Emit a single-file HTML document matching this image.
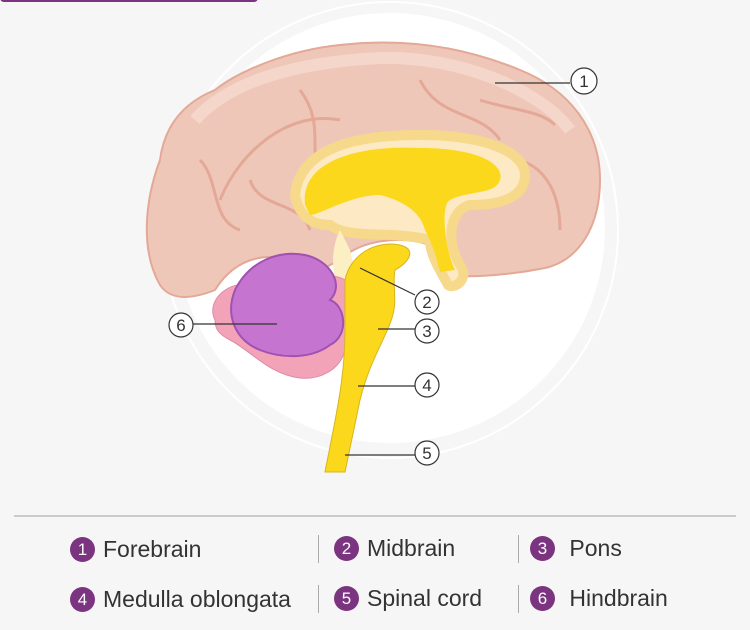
<!DOCTYPE html>
<html><head><meta charset="utf-8"><style>
body{margin:0;background:#f6f6f6;font-family:"Liberation Sans",sans-serif}
.wrap{position:relative;width:750px;height:630px;overflow:hidden}
.lg{position:absolute;font-size:23px;color:#333;display:flex;align-items:center}
.n{display:inline-block;width:25px;height:25px;border-radius:50%;background:#7b347f;color:#fff;font-size:17px;text-align:center;line-height:25px;margin-right:8px}
.sep{position:absolute;width:1px;height:28px;background:#aaa}
</style></head><body><div class="wrap">
<svg width="750" height="630" style="position:absolute;left:0;top:0">
<rect x="0" y="-6" width="258" height="8" rx="4" fill="#7b347f"/>
<circle cx="390" cy="230" r="228" fill="none" stroke="#fff" stroke-width="2"/>
<circle cx="390" cy="228" r="215" fill="#fff"/>
<path d="M160,285 C140,250 145,200 160,160 C165,120 190,100 215,90 C240,70 290,50 340,45 C400,38 460,45 520,70 C570,90 600,130 600,180 C600,225 580,260 545,268 C510,275 470,278 450,275 L430,245 C400,235 360,240 340,260 L320,270 C280,250 240,250 215,290 C190,300 170,300 160,285Z" fill="#efc7b9" stroke="#e3a896" stroke-width="2"/>
<path d="M195,120 C230,80 300,62 380,58 C460,56 540,90 570,130" fill="none" stroke="#f5d6cb" stroke-width="12"/>
<path d="M220,200 C240,150 290,110 340,120 M300,90 C330,130 300,160 330,190 M420,80 C440,120 480,110 500,140 M480,100 C510,110 540,110 555,125 M200,160 C220,180 210,220 240,230 M250,180 C260,210 300,200 310,230 M520,160 C550,170 560,200 560,230" fill="none" stroke="#e3a896" stroke-width="3"/>
<path d="M295,195 C300,150 350,135 420,135 C480,135 525,150 525,175 C525,200 495,205 470,205 C450,210 445,240 460,265 C470,278 455,290 448,285 C440,270 430,255 430,240 C390,230 350,240 330,225 C315,225 300,220 295,195Z" fill="#fde9c4" stroke="#f6d98a" stroke-width="10"/>
<path d="M305,205 C300,160 360,145 420,148 C480,148 505,165 500,180 C495,195 470,190 450,200 C440,205 445,250 455,270 L440,272 C435,250 430,240 425,230 C420,210 400,200 380,195 C350,195 320,215 310,215Z" fill="#fcd81c"/>
<path d="M340,230 C330,250 330,280 345,300 L345,350 L360,330 L355,270 L350,250Z" fill="#fcefc4"/>
<path d="M215,320 C205,300 230,280 250,285 C300,280 330,270 345,280 L345,350 C340,370 320,380 300,378 C270,375 250,350 230,340 C220,335 215,330 215,320Z" fill="#f2a3b8" stroke="#e08aa5"/>
<path d="M235,290 C250,260 280,250 305,255 C330,260 345,285 330,300 C345,305 350,335 330,345 C310,360 280,358 260,350 C235,340 225,315 235,290Z" fill="#c575d0" stroke="#a150b3" stroke-width="2"/>
<path d="M345,280 C350,255 375,240 400,245 C420,250 405,265 395,270 C392,285 398,300 392,318 C385,340 370,360 360,400 L345,472 L325,472 C335,420 345,380 345,330Z" fill="#fcd81c" stroke="#d6b520"/>
<g stroke="#333" stroke-width="1.2" fill="#fff" font-size="16" text-anchor="middle">
<line x1="495" y1="83" x2="570" y2="83"/><circle cx="584" cy="81" r="13"/>
<line x1="360" y1="268" x2="415" y2="295"/><circle cx="427" cy="302" r="12"/>
<line x1="378" y1="329" x2="415" y2="329"/><circle cx="427" cy="331" r="12"/>
<line x1="358" y1="386" x2="415" y2="386"/><circle cx="427" cy="385" r="12"/>
<line x1="345" y1="455" x2="415" y2="455"/><circle cx="427" cy="453" r="12"/>
<line x1="192" y1="324" x2="277" y2="324"/><circle cx="181" cy="325" r="12"/>
</g>
<g font-size="17" fill="#333" text-anchor="middle">
<text x="584" y="87">1</text><text x="427" y="308">2</text><text x="427" y="337">3</text><text x="427" y="391">4</text><text x="427" y="459">5</text><text x="181" y="331">6</text>
</g>
<line x1="14" y1="516" x2="736" y2="516" stroke="#bbb" stroke-width="1.5"/>
</svg>
<div class="lg" style="left:70px;top:536px"><span class="n">1</span>Forebrain</div>
<div class="sep" style="left:318px;top:535px"></div>
<div class="lg" style="left:334px;top:535px"><span class="n">2</span>Midbrain</div>
<div class="sep" style="left:518px;top:535px"></div>
<div class="lg" style="left:530px;top:535px"><span class="n">3</span>&nbsp;Pons</div>
<div class="lg" style="left:70px;top:586px"><span class="n">4</span>Medulla oblongata</div>
<div class="sep" style="left:318px;top:585px"></div>
<div class="lg" style="left:334px;top:585px"><span class="n">5</span>Spinal cord</div>
<div class="sep" style="left:518px;top:585px"></div>
<div class="lg" style="left:530px;top:585px"><span class="n">6</span>&nbsp;Hindbrain</div>
</div></body></html>
